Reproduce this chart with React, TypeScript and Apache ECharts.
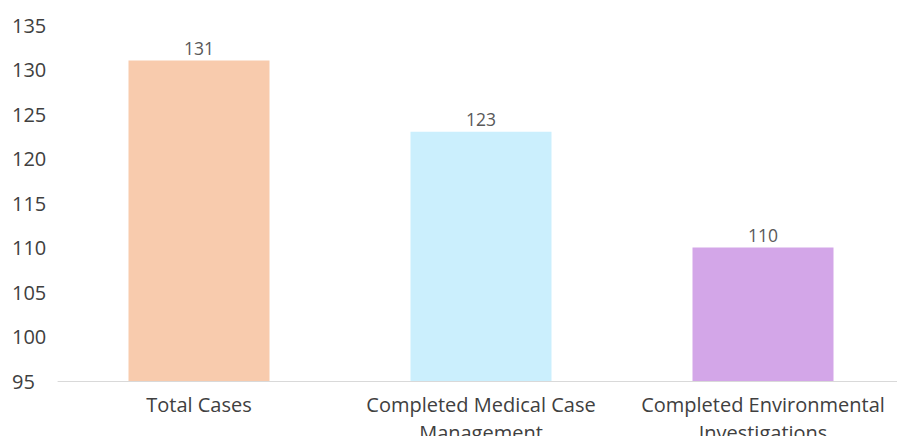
import React, { useEffect, useRef } from "react";
import * as echarts from "echarts";

const categories = [
  "Total Cases",
  "Completed Medical Case\nManagement",
  "Completed Environmental\nInvestigations",
];
const values = [131, 123, 110];
const barColors = ["#F8CBAD", "#CBEFFD", "#D3A6E8"];
const yMin = 95;
const yMax = 135;
const yInterval = 5;

export default function App() {
  const ref = useRef<HTMLDivElement>(null);
  useEffect(() => {
    if (!ref.current) return;
    const chart = echarts.init(ref.current, undefined, { renderer: "svg" });
    const font = "'Open Sans', 'DejaVu Sans', sans-serif";
    chart.setOption({
      animation: false,
      backgroundColor: "#ffffff",
      grid: {
        left: 58,
        right: -7,
        top: 25,
        bottom: 55,
        containLabel: false,
        outerBoundsMode: "none",
      },
      xAxis: {
        type: "category",
        data: categories,
        axisLine: { show: true, lineStyle: { color: "#D9D9D9", width: 1 } },
        axisTick: { show: false },
        axisLabel: {
          color: "#404040",
          fontFamily: font,
          fontSize: 20,
          lineHeight: 28,
          margin: 9,
          interval: 0,
        },
      },
      yAxis: {
        type: "value",
        min: yMin,
        max: yMax,
        interval: yInterval,
        splitLine: { show: false },
        axisLine: { show: false },
        axisTick: { show: false },
        axisLabel: {
          color: "#404040",
          fontFamily: font,
          fontSize: 20,
          align: "left",
          margin: 46,
        },
      },
      series: [
        {
          type: "bar",
          barWidth: "50%",
          data: values.map((v, i) => ({ value: v, itemStyle: { color: barColors[i] } })),
          label: {
            show: true,
            position: "top",
            distance: 4,
            color: "#595959",
            fontFamily: font,
            fontSize: 17.5,
          },
        },
      ],
    });
    return () => chart.dispose();
  }, []);
  return (
    <div
      ref={ref}
      style={{ position: "absolute", left: 0, top: 0, width: 897, height: 436 }}
    />
  );
}
